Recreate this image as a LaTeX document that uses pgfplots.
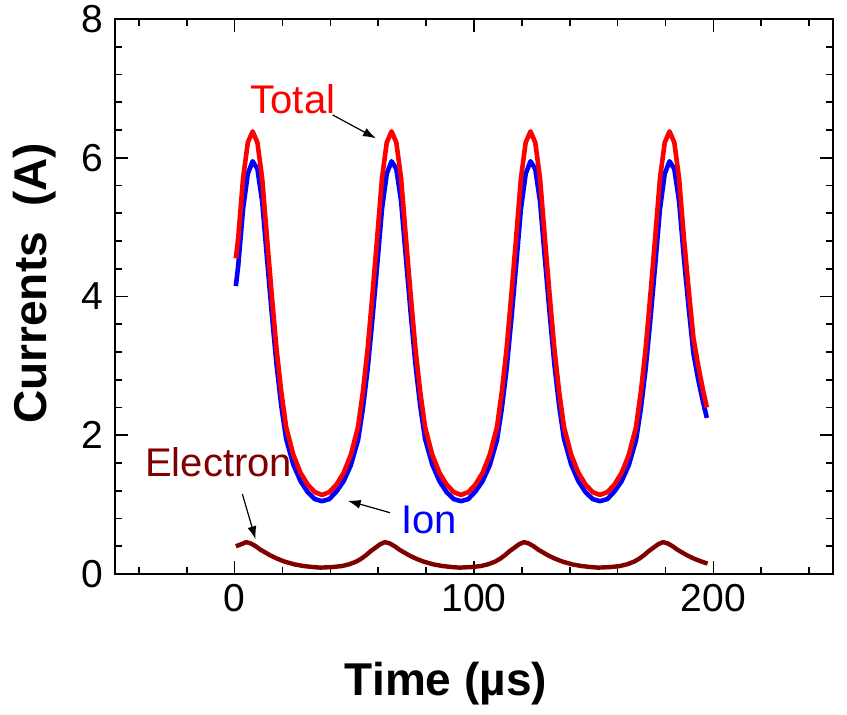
\documentclass[border=0pt]{standalone}
\usepackage{pgfplots}
\pgfplotsset{compat=1.18}
\usepackage{fontspec}
\setmainfont{Liberation Sans}
\usetikzlibrary{arrows.meta}
\definecolor{elec}{RGB}{128,0,0}

\pgfplotstableread{
t v
0.5 4.55
1.5 4.85
3.5 5.70
5.5 6.22
7.5 6.38
9.5 6.22
11.5 5.70
13.5 4.85
15.5 4.02
17.5 3.24
19.5 2.62
21.5 2.12
24.5 1.72
27.5 1.46
30.5 1.29
33.5 1.18
36.5 1.14
39.55 1.18
42.55 1.29
45.55 1.46
48.55 1.72
51.55 2.12
53.55 2.62
55.55 3.24
57.55 4.02
59.55 4.85
61.55 5.70
63.55 6.22
65.55 6.38
67.55 6.22
69.55 5.70
71.55 4.85
73.55 4.02
75.55 3.24
77.55 2.62
79.55 2.12
82.55 1.72
85.55 1.46
88.55 1.29
91.55 1.18
94.55 1.14
97.6 1.18
100.6 1.29
103.6 1.46
106.6 1.72
109.6 2.12
111.6 2.62
113.6 3.24
115.6 4.02
117.6 4.85
119.6 5.70
121.6 6.22
123.6 6.38
125.6 6.22
127.6 5.70
129.6 4.85
131.6 4.02
133.6 3.24
135.6 2.62
137.6 2.12
140.6 1.72
143.6 1.46
146.6 1.29
149.6 1.18
152.6 1.14
155.7 1.18
158.7 1.29
161.7 1.46
164.7 1.72
167.7 2.12
169.7 2.62
171.7 3.24
173.7 4.02
175.7 4.85
177.7 5.70
179.7 6.22
181.7 6.38
183.7 6.22
185.7 5.70
187.7 4.85
189.7 4.10
191.7 3.40
193.7 3.00
195.7 2.65
197.3 2.40
}\total

\pgfplotstableread{
t v
0.5 4.15
1.5 4.45
3.5 5.26
5.5 5.77
7.5 5.95
9.5 5.84
11.5 5.37
13.5 4.56
15.5 3.76
17.5 3.02
19.5 2.42
21.5 1.95
24.5 1.58
27.5 1.34
30.5 1.18
33.5 1.08
36.5 1.05
39.55 1.08
42.55 1.19
45.55 1.34
48.55 1.57
51.55 1.93
53.55 2.38
55.55 2.95
57.55 3.67
59.55 4.45
61.55 5.26
63.55 5.77
65.55 5.95
67.55 5.84
69.55 5.37
71.55 4.56
73.55 3.76
75.55 3.02
77.55 2.42
79.55 1.95
82.55 1.58
85.55 1.34
88.55 1.18
91.55 1.08
94.55 1.05
97.6 1.08
100.6 1.19
103.6 1.34
106.6 1.57
109.6 1.93
111.6 2.38
113.6 2.95
115.6 3.67
117.6 4.45
119.6 5.26
121.6 5.77
123.6 5.95
125.6 5.84
127.6 5.37
129.6 4.56
131.6 3.76
133.6 3.02
135.6 2.42
137.6 1.95
140.6 1.58
143.6 1.34
146.6 1.18
149.6 1.08
152.6 1.05
155.7 1.08
158.7 1.19
161.7 1.34
164.7 1.57
167.7 1.93
169.7 2.38
171.7 2.95
173.7 3.67
175.7 4.45
177.7 5.26
179.7 5.77
181.7 5.95
183.7 5.84
185.7 5.37
187.7 4.56
189.7 3.84
191.7 3.18
193.7 2.80
195.7 2.48
197.3 2.25
}\ion

\pgfplotstableread{
t v
0.5 0.40
2.8 0.43
4.8 0.46
6.8 0.44
8.8 0.40
10.8 0.35
12.8 0.31
14.8 0.27
17.8 0.22
20.8 0.18
24.8 0.14
28.8 0.115
32.8 0.10
35.8 0.092
40.85 0.10
44.85 0.115
47.85 0.14
50.85 0.18
52.85 0.22
54.85 0.27
56.85 0.33
58.85 0.38
60.85 0.43
62.85 0.46
64.85 0.44
66.85 0.40
68.85 0.35
70.85 0.31
72.85 0.27
75.85 0.22
78.85 0.18
82.85 0.14
86.85 0.115
90.85 0.10
93.9 0.092
98.9 0.10
102.9 0.115
105.9 0.14
108.9 0.18
110.9 0.22
112.9 0.27
114.9 0.33
116.9 0.38
118.9 0.43
120.9 0.46
122.9 0.44
124.9 0.40
126.9 0.35
128.9 0.31
130.9 0.27
133.9 0.22
136.9 0.18
140.9 0.14
144.9 0.115
148.9 0.10
151.9 0.092
157.0 0.10
161.0 0.115
164.0 0.14
167.0 0.18
169.0 0.22
171.0 0.27
173.0 0.33
175.0 0.38
177.0 0.43
179.0 0.46
181.0 0.44
183.0 0.40
185.0 0.35
187.0 0.31
189.0 0.27
192.0 0.22
195.0 0.18
197.6 0.15
}\electron

\begin{document}
\begin{tikzpicture}
\path[use as bounding box] (-57.5pt,-70pt) rectangle (366pt,287pt);
\begin{axis}[
  at={(0pt,0pt)}, anchor=south west,
  scale only axis, width=359pt, height=277.5pt,
  xmin=-50, xmax=250, ymin=0, ymax=8,
  xtick={0,100,200}, ytick={0,2,4,6,8},
  minor xtick={-40,-20,...,240},
  minor ytick={0.4,0.8,...,7.7},
  tick align=inside,
  major tick length=6.5pt, minor tick length=3.5pt,
  axis line style={line width=1pt},
  tick style={line width=0.8pt, black},
  ticklabel style={font=\fontsize{19.5}{22}\selectfont},
  /pgf/number format/assume math mode=true,
  yticklabel style={xshift=-2.5pt},
  xticklabel style={yshift=-1.5pt},
  label style={font=\fontsize{23}{26}\selectfont\bfseries},
  xlabel={Time (µs)},
  ylabel={Currents~~(A)},
  xlabel style={at={(axis description cs:0.461,0)}, anchor=base, yshift=-60.5pt},
  ylabel style={at={(axis description cs:0,0.524)}, anchor=center, yshift=40pt},
]
\addplot[blue, line width=2.3pt, line join=round] table[x=t,y=v] {\ion};
\addplot[red, line width=2.3pt, line join=round] table[x=t,y=v] {\total};
\addplot[elec, line width=2.2pt, line join=round] table[x=t,y=v] {\electron};

\node[anchor=base west, inner sep=0, red, font=\fontsize{20}{22}\selectfont] at (axis cs:6.54,6.641) {Total};
\node[anchor=base west, inner sep=0, elec, font=\fontsize{20}{22}\selectfont] at (axis cs:-37.5,1.402) {Electron};
\node[anchor=base west, inner sep=0, blue, font=\fontsize{20}{22}\selectfont] at (axis cs:69.46,0.587) {Ion};
\draw[-{Latex[length=6.5pt,width=4.5pt]}, line width=0.6pt] (axis cs:40.96,6.617) -- (axis cs:59.04,6.280);
\draw[-{Latex[length=6.5pt,width=4.5pt]}, line width=0.6pt] (axis cs:3.21,1.153) -- (axis cs:8.75,0.500);
\draw[-{Latex[length=6.5pt,width=4.5pt]}, line width=0.6pt] (axis cs:64.88,0.884) -- (axis cs:47.21,1.057);
\end{axis}
\end{tikzpicture}
\end{document}
